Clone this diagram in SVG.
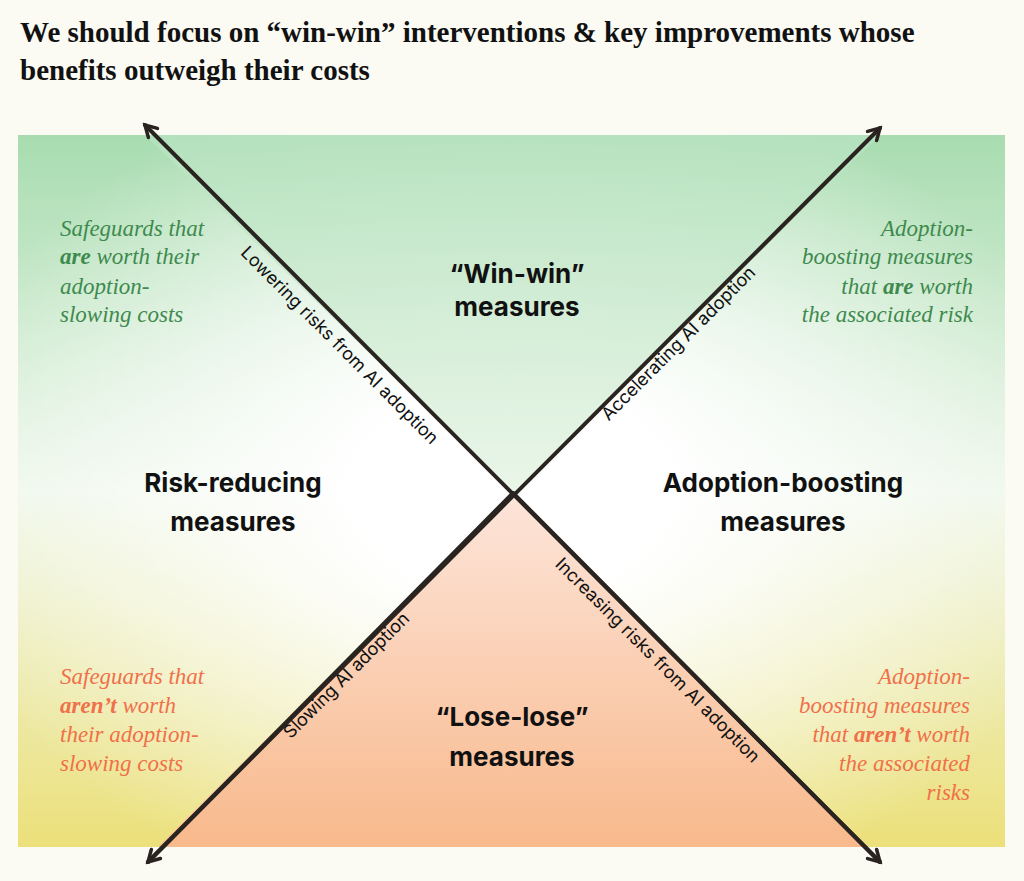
<svg xmlns="http://www.w3.org/2000/svg" width="1024" height="881" viewBox="0 0 1024 881">
<defs>
<style>
.t{font-family:"Liberation Serif",serif;font-size:29px;font-weight:bold;fill:#111}
.h{font-family:Inter,"Liberation Sans",sans-serif;font-size:26px;font-weight:bold;fill:#111;text-anchor:middle}
.l{font-family:Inter,"Liberation Sans",sans-serif;font-size:18px;fill:#111;text-anchor:middle;dominant-baseline:central}
.i{font-family:"Liberation Serif",serif;font-style:italic;font-size:23px}
.g{fill:#3e8a4e}.o{fill:#f0704a}
.ar{stroke:#2a2420;stroke-width:4;fill:none;stroke-linecap:round}
</style>
<radialGradient id="rc" cx="0.5" cy="0.5" r="0.6"><stop offset="0.25" stop-color="#ffffff"/><stop offset="1" stop-color="#ffffff" stop-opacity="0"/></radialGradient>
<linearGradient id="bg" x1="0" y1="0" x2="0" y2="1"><stop offset="0" stop-color="#a8dcb0"/><stop offset="0.5" stop-color="#eef7ea"/><stop offset="1" stop-color="#ece07a"/></linearGradient>
<linearGradient id="top" x1="0" y1="0" x2="0" y2="1"><stop offset="0" stop-color="#b6e2bf"/><stop offset="1" stop-color="#e6f4e4"/></linearGradient>
<linearGradient id="bot" x1="0" y1="0" x2="0" y2="1"><stop offset="0" stop-color="#fde5da"/><stop offset="1" stop-color="#f8b98c"/></linearGradient>
<marker id="m" viewBox="0 0 10 10" refX="8" refY="5" markerWidth="4" markerHeight="4" orient="auto"><path d="M1 1L8 5L1 9" fill="none" stroke="#2a2420" stroke-width="2.2" stroke-linecap="round"/></marker>
</defs>
<rect width="1024" height="881" fill="#fbfaf3"/>
<text class="t" x="20" y="42">We should focus on “win-win” interventions &amp; key improvements whose</text>
<text class="t" x="20" y="80">benefits outweigh their costs</text>
<g id="panel">
<rect x="18" y="135" width="987" height="712" fill="url(#bg)"/>
<rect x="18" y="135" width="987" height="712" fill="url(#rc)"/>
<polygon points="145,135 880,135 513,493" fill="url(#top)" opacity="0.85"/>
<polygon points="158,847 868,847 513,493" fill="url(#bot)"/>
</g>
<g id="connectors">
<line class="ar" x1="880" y1="862" x2="145" y2="125" marker-end="url(#m)"/>
<line class="ar" x1="513" y1="493" x2="880" y2="862" marker-end="url(#m)"/>
<line class="ar" x1="148" y1="862" x2="880" y2="128" marker-end="url(#m)"/>
<line class="ar" x1="513" y1="493" x2="148" y2="862" marker-end="url(#m)"/>
<text class="l" transform="translate(340,345) rotate(45)">Lowering risks from AI adoption</text>
<text class="l" transform="translate(678,343) rotate(-45)">Accelerating AI adoption</text>
<text class="l" transform="translate(346,675) rotate(-45)">Slowing AI adoption</text>
<text class="l" transform="translate(658,660) rotate(45)">Increasing risks from AI adoption</text>
</g>
<g id="win"><text class="h" x="517" y="283">“Win-win”</text><text class="h" x="517" y="316">measures</text></g>
<g id="risk"><text class="h" x="233" y="492">Risk-reducing</text><text class="h" x="233" y="531">measures</text></g>
<g id="adopt"><text class="h" x="783" y="492">Adoption-boosting</text><text class="h" x="783" y="531">measures</text></g>
<g id="lose"><text class="h" x="512" y="726">“Lose-lose”</text><text class="h" x="512" y="766">measures</text></g>
<g id="tl" class="i g">
<text x="60" y="236">Safeguards that</text>
<text x="60" y="264"><tspan font-weight="bold">are</tspan> worth their</text>
<text x="60" y="294">adoption-</text>
<text x="60" y="322">slowing costs</text>
</g>
<g id="tr" class="i g" text-anchor="end">
<text x="973" y="236">Adoption-</text>
<text x="973" y="264">boosting measures</text>
<text x="973" y="294">that <tspan font-weight="bold">are</tspan> worth</text>
<text x="973" y="322">the associated risk</text>
</g>
<g id="bl" class="i o">
<text x="60" y="684">Safeguards that</text>
<text x="60" y="713"><tspan font-weight="bold">aren’t</tspan> worth</text>
<text x="60" y="742">their adoption-</text>
<text x="60" y="771">slowing costs</text>
</g>
<g id="br" class="i o" text-anchor="end">
<text x="970" y="684">Adoption-</text>
<text x="970" y="713">boosting measures</text>
<text x="970" y="742">that <tspan font-weight="bold">aren’t</tspan> worth</text>
<text x="970" y="771">the associated</text>
<text x="970" y="800">risks</text>
</g>
</svg>
